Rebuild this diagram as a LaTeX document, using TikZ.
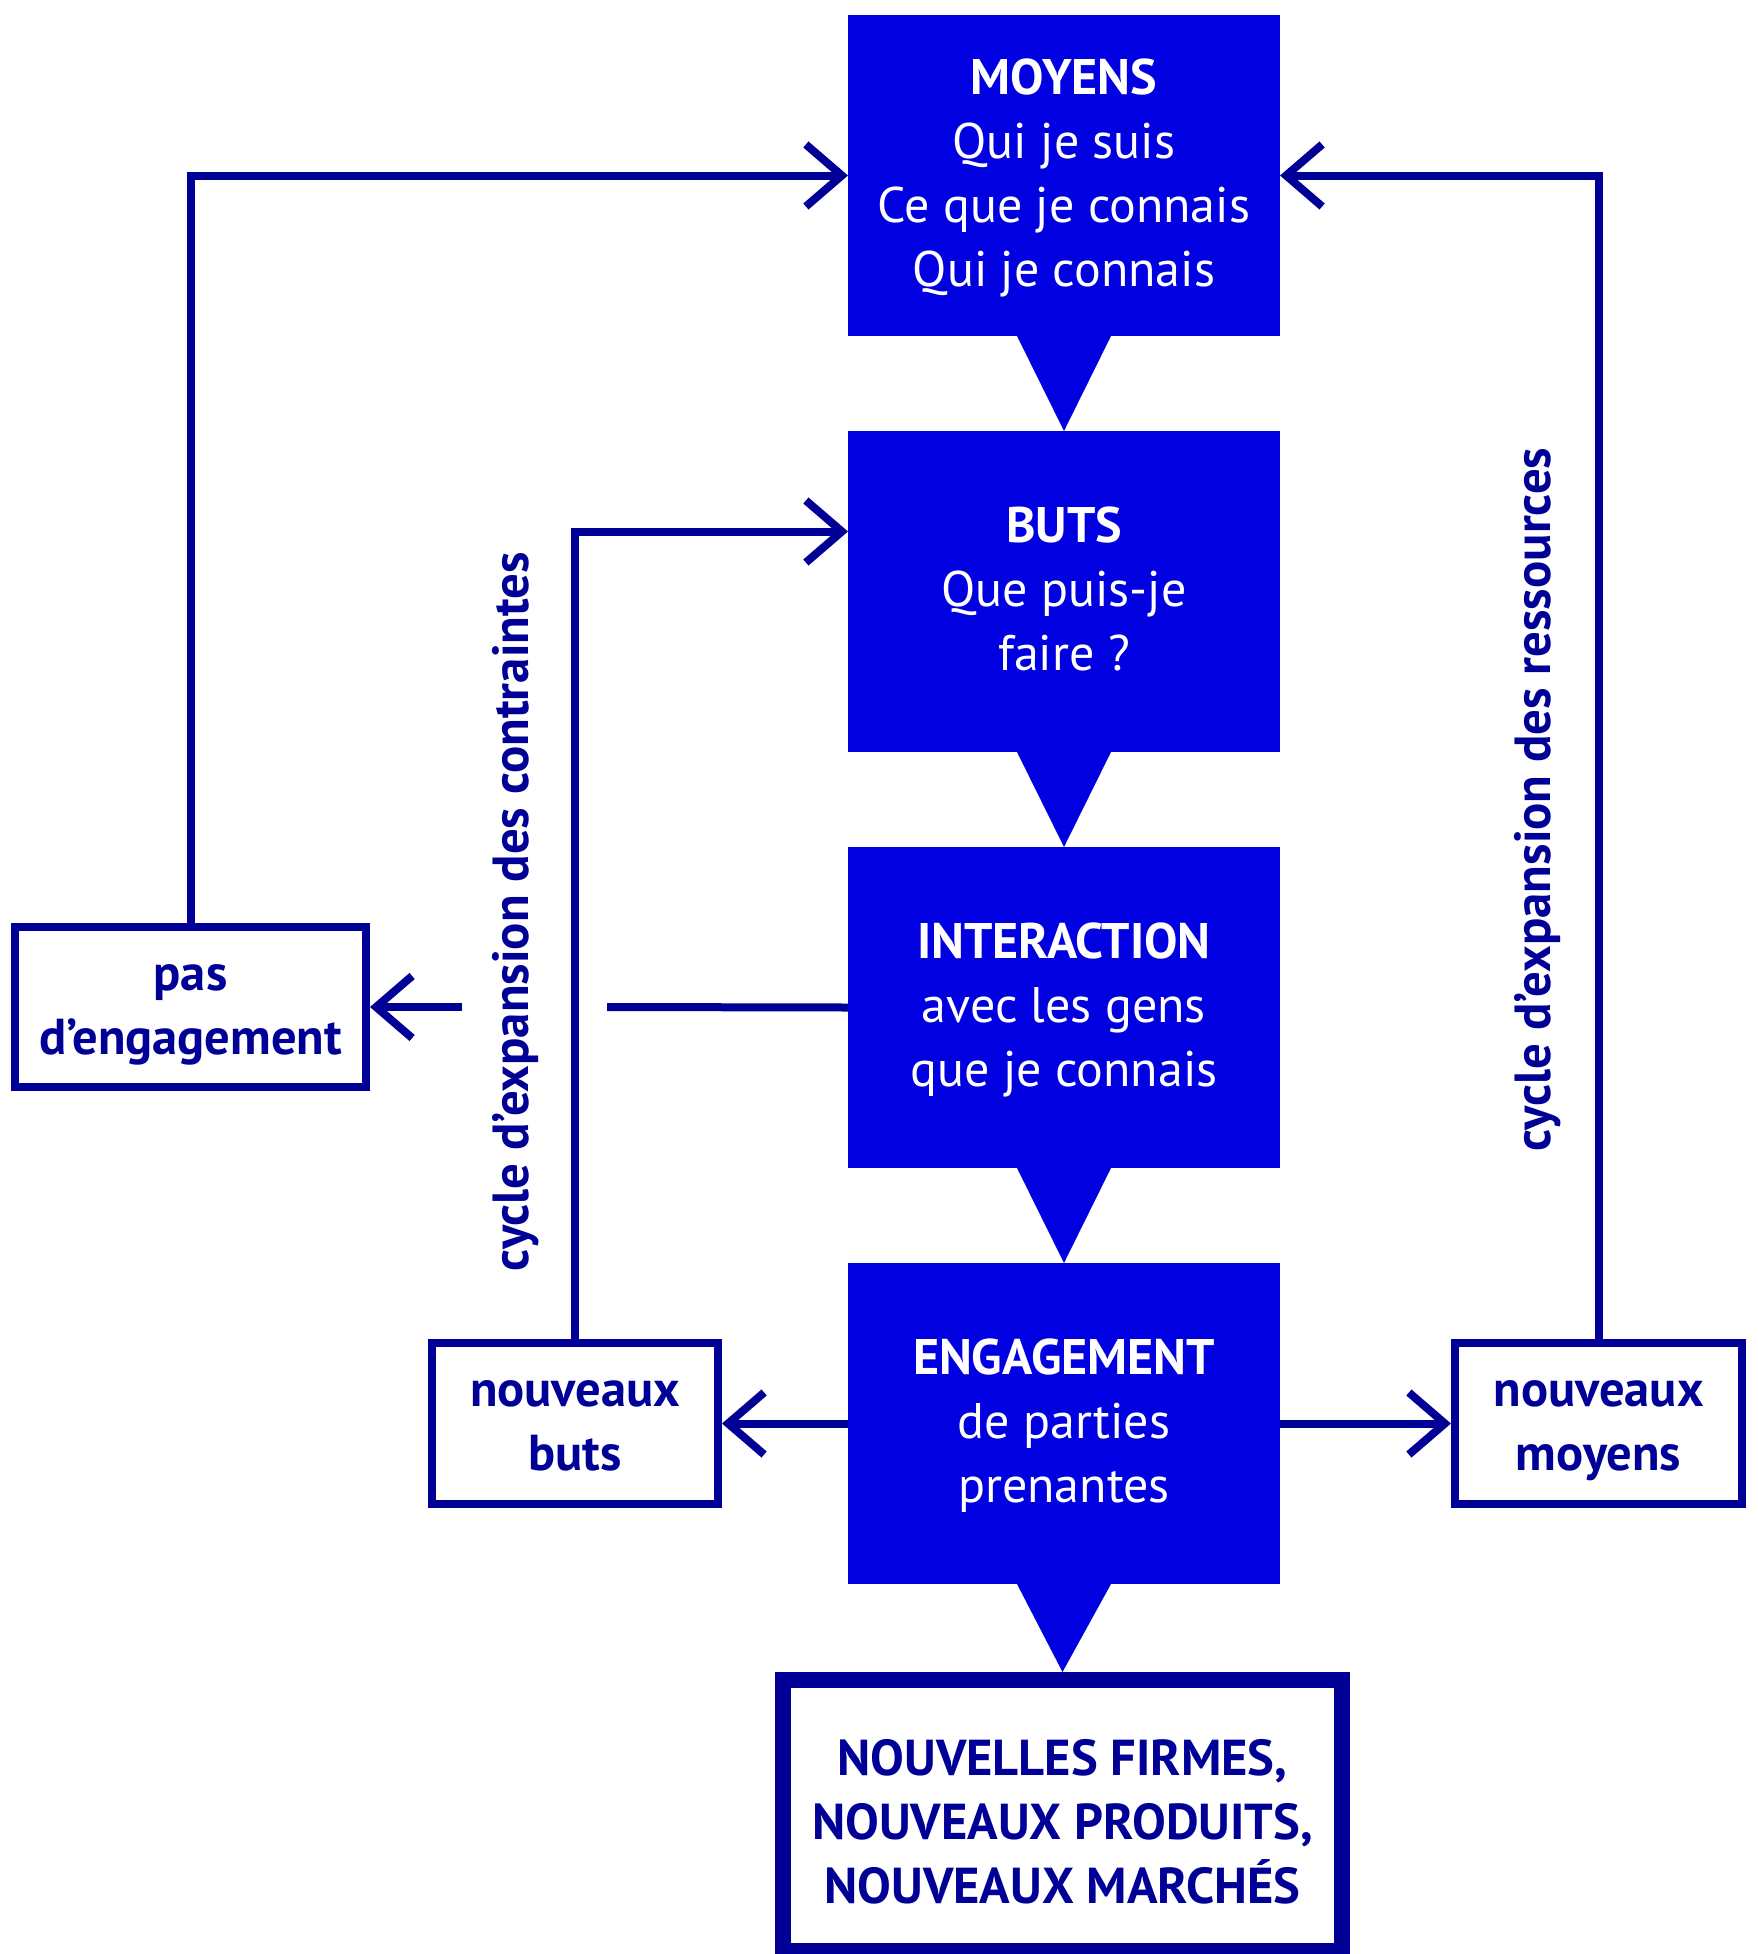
\documentclass[tikz,border=0pt]{standalone}
\usepackage{fontspec}
\setmainfont{PT Sans}
\usetikzlibrary{arrows.meta}
\definecolor{boxblue}{HTML}{0000E1}
\definecolor{navy}{HTML}{000096}
% first and last rows of a centred text block: fixed cap height on top,
% fixed small depth at the bottom, so every block sits alike in its box
\newcommand{\firstrow}{\rule{0pt}{35pt}}
\newcommand{\finalrow}[1]{\smash{#1}\rule[-5pt]{0pt}{5pt}}

\begin{document}
\begin{tikzpicture}[x=1pt,y=-1pt,
  stage/.style={fill=boxblue, text=white, minimum width=432pt, minimum height=321pt,
    inner sep=0pt, outer sep=0pt, align=center, font=\fontsize{50}{64}\selectfont},
  outcome/.style={draw=navy, line width=8pt, fill=white, text=navy, inner sep=0pt,
    align=center, minimum height=161pt, font=\bfseries\fontsize{50.5}{64}\selectfont},
  pointer/.style={fill=boxblue},
  link/.style={draw=navy, line width=8pt},
  barb/.style={-{Straight Barb[sharp,length=36pt,width=62pt]}},
  cyclelabel/.style={rotate=90, anchor=base, text=navy, inner sep=0pt,
    font=\bfseries\fontsize{50.8}{64}\selectfont}
]
\useasboundingbox (0,0) rectangle (1757,1954);

% the four stages of the process
\node[stage] (mo) at (1064,175.5)
  {\firstrow\textbf{MOYENS}\\Qui je suis\\Ce que je connais\\\finalrow{Qui je connais}};
\node[stage] (bu) at (1064,591.5)
  {\firstrow\textbf{BUTS}\\Que puis-je\\\finalrow{faire ?}};
\node[stage] (in) at (1064,1007.5)
  {\firstrow\textbf{INTERACTION}\\avec les gens\\\finalrow{que je connais}};
\node[stage] (en) at (1064,1423.5)
  {\firstrow\textbf{ENGAGEMENT}\\de parties\\\finalrow{prenantes}};

% outcome boxes
\node[outcome, minimum width=351pt, minimum height=160pt] (pas) at (190.5,1007)
  {\firstrow pas\\\finalrow{d’engagement}};
\node[outcome, minimum width=286pt] (nb) at (575,1423.5)
  {\firstrow nouveaux\\\finalrow{buts}};
\node[outcome, minimum width=287pt] (nm) at (1598.5,1423.5)
  {\firstrow nouveaux\\\finalrow{moyens}};
\node[outcome, line width=16pt, minimum width=559pt, minimum height=271pt] (out) at (1062.5,1815.5)
  {\rule{0pt}{48pt}NOUVELLES FIRMES,\\NOUVEAUX PRODUITS,\\\smash{NOUVEAUX MARCHÉS}};

% pointers between successive stages
\fill[pointer] ([xshift=-47pt]mo.south) -- ([xshift=47pt]mo.south) -- (bu.north) -- cycle;
\fill[pointer] ([xshift=-47pt]bu.south) -- ([xshift=47pt]bu.south) -- (in.north) -- cycle;
\fill[pointer] ([xshift=-47pt]in.south) -- ([xshift=47pt]in.south) -- (en.north) -- cycle;
\fill[pointer] ([xshift=-47pt]en.south) -- ([xshift=47pt]en.south) -- (out.north) -- cycle;

% feedback loops
\draw[link, barb] (pas.north) |- (mo.west);
\draw[link, barb] (nm.north) |- (mo.east);
\draw[link, barb] (nb.north) |- ([yshift=60pt]bu.west);
\draw[link, barb] (en.west) -- (nb.east);
\draw[link, barb] (en.east) -- (nm.west);

% interaction leading to no engagement, broken by the loop label
\coordinate (gapR) at (607,1007);
\coordinate (gapL) at (462,1007);
\draw[link] (in.west) -- (gapR);
\draw[link, barb] (gapL) -- (pas.east);

% loop labels
\node[cyclelabel] (cc) at (528,911.5) {cycle d’expansion des contraintes};
\node[cyclelabel] (cr) at (1550,799.5) {cycle d’expansion des ressources};
\end{tikzpicture}
\end{document}
